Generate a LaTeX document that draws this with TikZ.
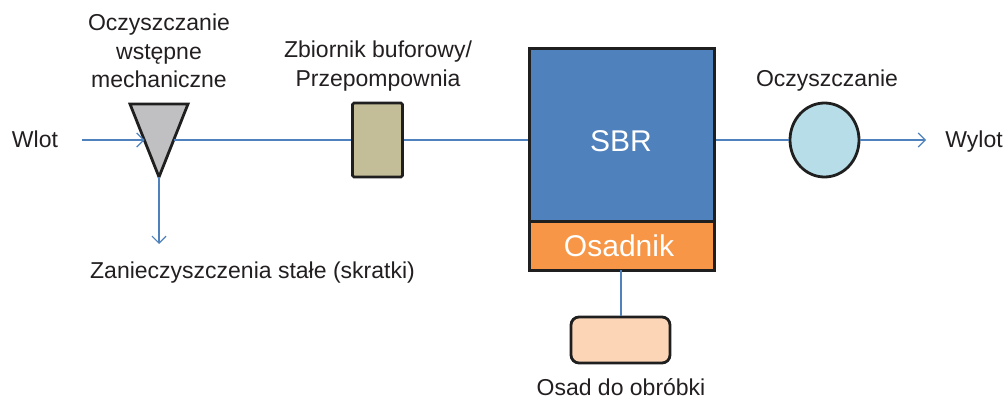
\documentclass[tikz,border=0pt]{standalone}
\usepackage{fontspec}
\setmainfont{Liberation Sans}
\usetikzlibrary{arrows.meta,shapes.geometric}
\definecolor{flow}{HTML}{4F81BD}
\definecolor{txt}{HTML}{231F20}
\definecolor{sbrblue}{HTML}{4F81BD}
\definecolor{osorange}{HTML}{F79646}
\definecolor{sludge}{HTML}{FBD5B5}
\definecolor{buff}{HTML}{C4BE98}
\definecolor{polish}{HTML}{B7DDE8}
\definecolor{screen}{HTML}{C0C0C2}
\tikzset{
  lbl/.style={text=txt, font=\fontsize{23}{28.5}\selectfont, inner sep=0pt, anchor=base, align=center},
  inlbl/.style={text=white, font=\fontsize{30}{34}\selectfont, inner sep=0pt, anchor=base},
  unit/.style={draw=black!88, line width=2.8pt},
  flowline/.style={draw=flow, line width=1.2pt},
  flowarrow/.style={flowline, -{Straight Barb[length=7pt,width=14pt,line width=1.2pt]}},
}
\begin{document}
\begin{tikzpicture}[x=1pt,y=-1pt]
\useasboundingbox (0,0) rectangle (1008,403);
% screen (triangle)
\coordinate (triTL) at (130,104);
\coordinate (triTR) at (188,104);
\coordinate (triTip) at (159,177);
\coordinate (triIn) at (144.5,140);
\coordinate (triOut) at (173.5,140);
\draw[unit, fill=screen, line join=miter] (triTL) -- (triTR) -- (triTip) -- cycle;
% buffer tank
\node[unit, fill=buff, rounded corners=1.5pt, minimum width=50pt, minimum height=74pt, inner sep=0pt] (buf) at (377.5,140) {};
% SBR and settler
\node[unit, fill=sbrblue, minimum width=185pt, minimum height=173pt, inner sep=0pt, anchor=north west] (sbr) at (528,47) {};
\node[unit, fill=osorange, minimum width=185pt, minimum height=49pt, inner sep=0pt, anchor=north west] (osad) at (528,220) {};
% sludge box
\node[unit, fill=sludge, rounded corners=8pt, minimum width=99pt, minimum height=46pt, inner sep=0pt] (sludgebox) at (620.5,340) {};
% polishing
\node[unit, fill=polish, ellipse, minimum width=69pt, minimum height=74pt, inner sep=0pt] (pol) at (824.5,140) {};
% texts
\node[lbl] (wlot) at (35,148) {Wlot};
\node[lbl] (wylot) at (974,148) {Wylot};
\node[lbl, anchor=north] (lblscreen) at (159,14) {Oczyszczanie\\wstępne\\mechaniczne};
\node[lbl, anchor=north] (lblbuf) at (378,41) {Zbiornik buforowy/\\Przepompownia};
\node[lbl] (lblpol) at (827,86.5) {Oczyszczanie};
\node[lbl] (lblgrit) at (252.5,278) {Zanieczyszczenia stałe (skratki)};
\node[lbl] (lblsludge) at (621,395) {Osad do obróbki};
\node[inlbl] (txtsbr) at (621,151.5) {SBR};
\node[inlbl] (txtosad) at (619,256.5) {Osadnik};
% connectors
\coordinate (inStart) at (82,140);
\coordinate (gritEnd) at (159,244);
\coordinate (outEnd) at (926,140);
\coordinate (sludgeTop) at (621,270);
\draw[flowarrow] (inStart) -- (triIn);
\draw[flowarrow] (triTip) -- (gritEnd);
\draw[flowline] (triOut) -- (buf.west);
\draw[flowline] (buf.east) -- (sbr.west |- buf.east);
\draw[flowline] (sbr.east |- pol.west) -- (pol.west);
\draw[flowarrow] (pol.east) -- (outEnd);
\draw[flowline] (sludgeTop) -- (sludgeTop |- sludgebox.north);
\end{tikzpicture}
\end{document}
